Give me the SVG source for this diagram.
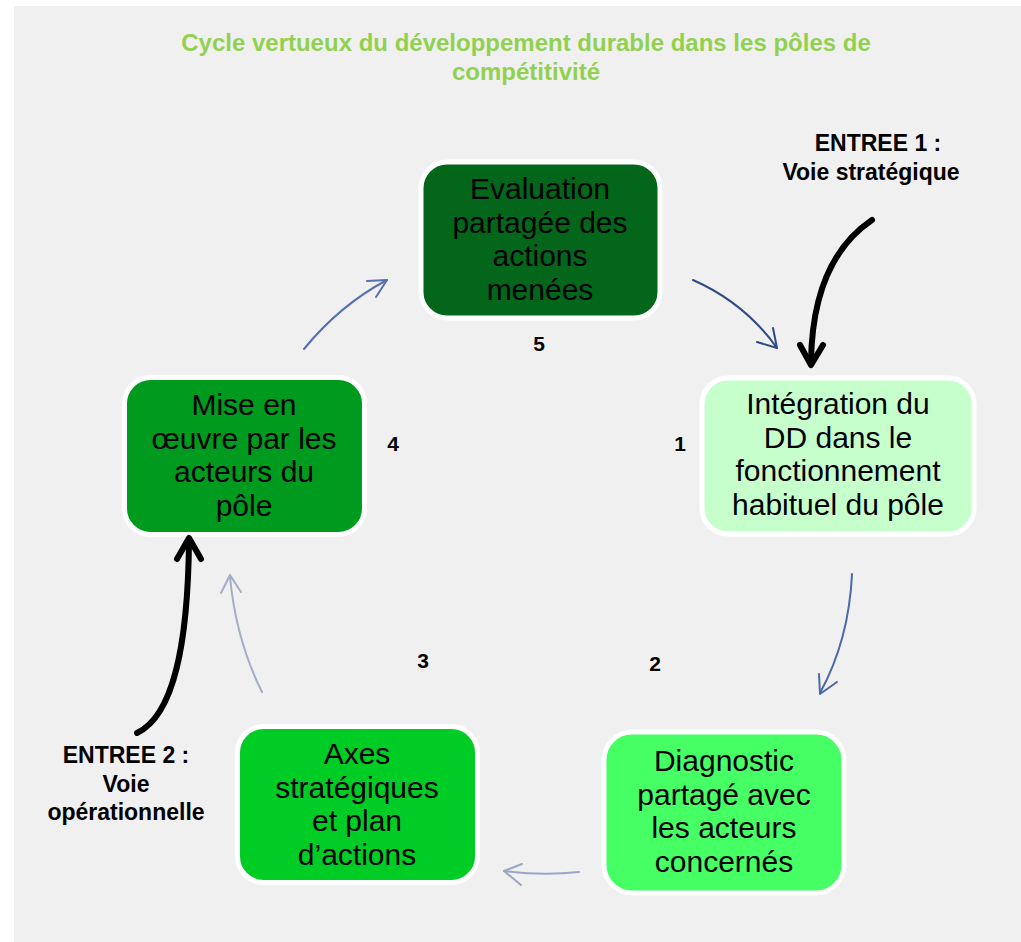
<svg xmlns="http://www.w3.org/2000/svg" width="1021" height="942" viewBox="0 0 1021 942">
<defs>
<style>
.node rect{stroke:#ffffff;stroke-width:5}
.nt{font-family:"Liberation Sans",Arial,sans-serif;font-size:30px;fill:#000;text-anchor:middle}
.num{font-family:"Liberation Sans",Arial,sans-serif;font-size:21px;font-weight:bold;fill:#000;text-anchor:middle}
.lbl{font-family:"Liberation Sans",Arial,sans-serif;font-size:23px;font-weight:bold;fill:#000;text-anchor:middle}
.title{font-family:"Liberation Sans",Arial,sans-serif;font-size:24px;font-weight:bold;fill:#92D050;text-anchor:middle}
.c{fill:none;stroke-width:2;stroke-linecap:round;stroke-linejoin:round}
.e{fill:none;stroke:#000;stroke-width:6;stroke-linecap:round;stroke-linejoin:round}
</style>
</defs>
<rect x="14" y="6" width="1007" height="936" fill="#F0F0F0"/>
<g id="title">
<text class="title" x="526" y="51">Cycle vertueux du développement durable dans les pôles de</text>
<text class="title" x="526" y="80">compétitivité</text>
</g>
<g id="node-evaluation" class="node">
<rect x="421" y="162" width="239" height="156" rx="26" fill="#03661A"/>
<text class="nt" x="540" y="199">Evaluation</text>
<text class="nt" x="540" y="232.5">partagée des</text>
<text class="nt" x="540" y="266">actions</text>
<text class="nt" x="540" y="299.5">menées</text>
</g>
<g id="node-integration" class="node">
<rect x="702" y="378" width="272" height="156" rx="26" fill="#C6FFCC"/>
<text class="nt" x="838" y="414">Intégration du</text>
<text class="nt" x="838" y="447.5">DD dans le</text>
<text class="nt" x="838" y="481">fonctionnement</text>
<text class="nt" x="838" y="514.5">habituel du pôle</text>
</g>
<g id="node-diagnostic" class="node">
<rect x="604" y="732" width="240" height="161" rx="28" fill="#45FF64"/>
<text class="nt" x="724" y="771">Diagnostic</text>
<text class="nt" x="724" y="804.5">partagé avec</text>
<text class="nt" x="724" y="838">les acteurs</text>
<text class="nt" x="724" y="871.5">concernés</text>
</g>
<g id="node-axes" class="node">
<rect x="237.5" y="726.5" width="240" height="156" rx="26" fill="#00CC26"/>
<text class="nt" x="357" y="764">Axes</text>
<text class="nt" x="357" y="797.5">stratégiques</text>
<text class="nt" x="357" y="831">et plan</text>
<text class="nt" x="357" y="864.5">d’actions</text>
</g>
<g id="node-mise" class="node">
<rect x="124.5" y="377.5" width="240" height="157" rx="26" fill="#009A1E"/>
<text class="nt" x="244" y="415">Mise en</text>
<text class="nt" x="244" y="448.5">œuvre par les</text>
<text class="nt" x="244" y="482">acteurs du</text>
<text class="nt" x="244" y="515.5">pôle</text>
</g>
<g id="numbers">
<text class="num" x="680" y="451">1</text>
<text class="num" x="655" y="671">2</text>
<text class="num" x="423" y="668">3</text>
<text class="num" x="393" y="451">4</text>
<text class="num" x="539" y="351">5</text>
</g>
<g id="entries">
<text class="lbl" x="878" y="151">ENTREE 1 :</text>
<text class="lbl" x="871" y="180">Voie stratégique</text>
<text class="lbl" x="126" y="763">ENTREE 2 :</text>
<text class="lbl" x="126" y="792">Voie</text>
<text class="lbl" x="126" y="820">opérationnelle</text>
</g>
<g id="connectors">
<g stroke="#2F4B85" class="c">
<path d="M693,280 Q745,303 777,348"/>
<path d="M757,342 L777,348 L773,328"/>
</g>
<g stroke="#4A68AC" class="c">
<path d="M852,574 Q849,640 820,693"/>
<path d="M837,682 L820,694 L819,674"/>
</g>
<g stroke="#9AA6C6" class="c">
<path d="M579,872 Q542,876 504,871"/>
<path d="M522,864 L504,871 L521,885"/>
</g>
<g stroke="#A3ACC8" class="c">
<path d="M262,692 Q236,640 230,577"/>
<path d="M221,593 L230,575 L241,592"/>
</g>
<g stroke="#5570B0" class="c">
<path d="M304,349 Q340,305 387,280"/>
<path d="M367,281 L387,280 L376,297"/>
</g>
<path class="e" d="M872,220 C835,245 812,290 811,362"/>
<path class="e" d="M800,345 L811,365 L823,345"/>
<path class="e" d="M137,733 C175,715 188,640 189,541"/>
<path class="e" d="M177,559 L189,538 L201,559"/>
</g>
</svg>
